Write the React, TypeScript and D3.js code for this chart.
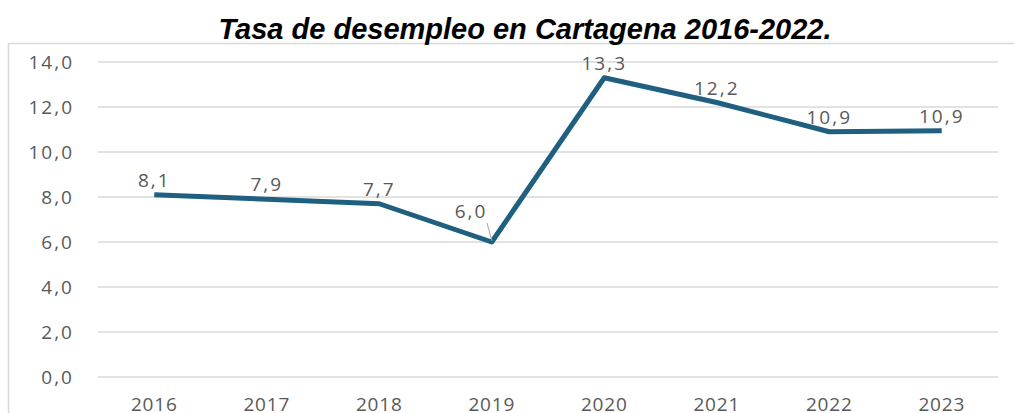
import * as d3 from 'd3';

// Tasa de desempleo Cartagena
const years = ['2016', '2017', '2018', '2019', '2020', '2021', '2022', '2023'];
const rates = [8.1, 7.9, 7.7, 6.0, 13.3, 12.2, 10.9, 10.94];
const yTicks = [0, 2, 4, 6, 8, 10, 12, 14];

const width = 1014;
const height = 413;
const plot = { left: 98, right: 998, top: 62, bottom: 377 };
const lineColor = '#1f5f80';
const textColor = '#595959';
const font = "'Open Sans', 'Noto Sans', sans-serif";

export default function App() {
  const x = d3.scaleBand<string>().domain(years).range([plot.left, plot.right]);
  const y = d3.scaleLinear().domain([0, 14]).range([plot.bottom, plot.top]);
  const fmt = (v: number) => d3.format('.1f')(v).replace('.', ',');
  const cx = (yr: string) => (x(yr) as number) + x.bandwidth() / 2;

  const line = d3
    .line<number>()
    .x((_, i) => cx(years[i]))
    .y((d) => y(d));

  return (
    <svg
      width={width}
      height={height}
      style={{ position: 'absolute', left: 0, top: 0, background: '#fff' }}
    >
      <rect x={8.5} y={43.5} width={1020} height={400} fill="none" stroke="#d9d9d9" strokeWidth={1.5} />
      <text
        x={525}
        y={39}
        textAnchor="middle"
        fontFamily="'Liberation Sans', Arial, sans-serif"
        fontWeight="bold"
        fontStyle="italic"
        fontSize={29}
        fill="#000"
      >
        Tasa de desempleo en Cartagena 2016-2022.
      </text>
      {yTicks.map((t) => (
        <g key={t}>
          <line x1={plot.left} x2={plot.right} y1={y(t)} y2={y(t)} stroke="#d9d9d9" strokeWidth={1.5} />
          <text x={74} y={y(t) + 7} textAnchor="end" fontFamily={font} fontSize={19} letterSpacing={2} fill={textColor}>
            {fmt(t)}
          </text>
        </g>
      ))}
      {years.map((yr) => (
        <text
          key={yr}
          x={cx(yr)}
          y={411}
          textAnchor="middle"
          fontFamily={font}
          fontSize={19}
          letterSpacing={0.8}
          fill={textColor}
        >
          {yr}
        </text>
      ))}
      <path d={line(rates) ?? ''} fill="none" stroke={lineColor} strokeWidth={5} strokeLinejoin="round" />
      {rates.map((v, i) => {
        const px = cx(years[i]);
        const py = y(v);
        if (years[i] === '2019') {
          return (
            <g key={i}>
              <line x1={487} y1={223} x2={492} y2={py - 1} stroke="#a6a6a6" strokeWidth={1} />
              <text x={471} y={218} textAnchor="middle" fontFamily={font} fontSize={19} letterSpacing={2} fill={textColor}>
                {fmt(v)}
              </text>
            </g>
          );
        }
        return (
          <text key={i} x={px} y={py - 8} textAnchor="middle" fontFamily={font} fontSize={19} letterSpacing={2} fill={textColor}>
            {fmt(v)}
          </text>
        );
      })}
    </svg>
  );
}
